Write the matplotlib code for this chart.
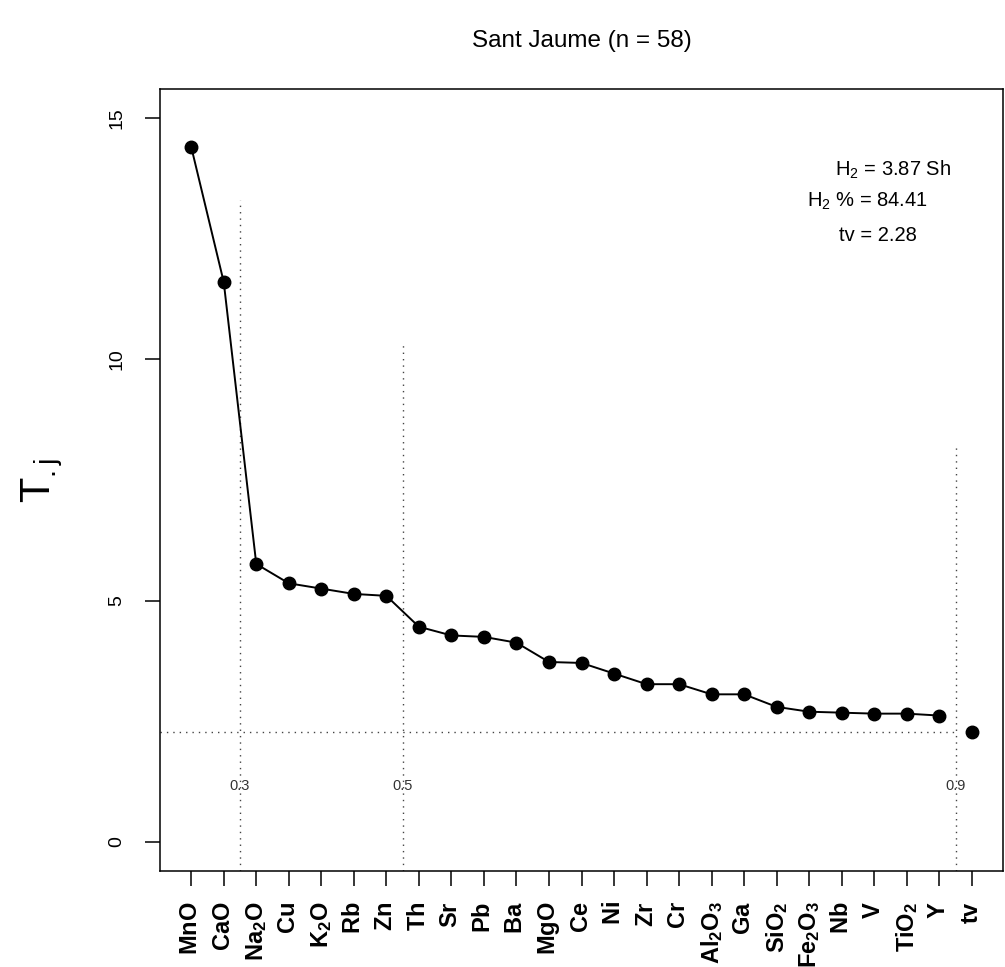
import matplotlib
matplotlib.use("Agg")
import matplotlib.pyplot as plt

plt.rcParams['font.family'] = ['Liberation Sans', 'DejaVu Sans']
plt.rcParams['mathtext.fontset'] = 'custom'
plt.rcParams['mathtext.rm'] = 'Liberation Sans'
plt.rcParams['mathtext.it'] = 'Liberation Sans:italic'
plt.rcParams['mathtext.bf'] = 'Liberation Sans:bold'

title = "Sant Jaume (n = 58)"
categories = [r"$\mathbf{MnO}$", r"$\mathbf{CaO}$", r"$\mathbf{Na_2O}$", r"$\mathbf{Cu}$",
              r"$\mathbf{K_2O}$", r"$\mathbf{Rb}$", r"$\mathbf{Zn}$", r"$\mathbf{Th}$",
              r"$\mathbf{Sr}$", r"$\mathbf{Pb}$", r"$\mathbf{Ba}$", r"$\mathbf{MgO}$",
              r"$\mathbf{Ce}$", r"$\mathbf{Ni}$", r"$\mathbf{Zr}$", r"$\mathbf{Cr}$",
              r"$\mathbf{Al_2O_3}$", r"$\mathbf{Ga}$", r"$\mathbf{SiO_2}$", r"$\mathbf{Fe_2O_3}$",
              r"$\mathbf{Nb}$", r"$\mathbf{V}$", r"$\mathbf{TiO_2}$", r"$\mathbf{Y}$",
              r"$\mathbf{tv}$"]
values = [14.40, 11.60, 5.76, 5.36, 5.25, 5.14, 5.10, 4.46, 4.28, 4.25, 4.13, 3.73,
          3.71, 3.49, 3.27, 3.27, 3.06, 3.06, 2.80, 2.70, 2.68, 2.66, 2.66, 2.62]
tv = 2.28
cut_labels = ["0.3", "0.5", "0.9"]
cut_pos = [2.5, 7.5, 24.5]
cut_tops = [13.3, 10.3, 8.2]
yticks = [0, 5, 10, 15]
stats_text = [r"$\mathrm{H_2}$ = 3.87 Sh", r"$\mathrm{H_2}$ % = 84.41", "tv = 2.28"]

fig = plt.figure(figsize=(10.05, 9.67), dpi=100)
ax = fig.add_axes([160/1005, 1-871/967, (1003-160)/1005, (871-89)/967])

n = len(categories)
xs = list(range(1, len(values) + 1))
ax.plot(xs, values, color='black', lw=1.4, marker='o', ms=9, zorder=3)
ax.plot([n], [tv], color='black', marker='o', ms=9, ls='none', zorder=3)

ax.set_xlim(1 - 0.04*(n-1), n + 0.04*(n-1))
ax.set_ylim(-0.6, 15.6)

dot = (0, (1, 3.6))
ax.plot([ax.get_xlim()[0], cut_pos[-1]], [tv, tv], color='#444444', lw=1.0, ls=dot)
for p, t, lab in zip(cut_pos, cut_tops, cut_labels):
    ax.plot([p, p], [-0.6, t], color='#444444', lw=1.0, ls=dot)
    ax.text(p, 1.16, lab, ha='center', va='center', fontsize=10.5, color='#333333')

tx = [22.57, 21.80, 22.10]
ty = [13.92, 13.27, 12.56]
for x, y, s in zip(tx, ty, stats_text):
    ax.text(x, y, s, ha='center', va='center', fontsize=14.5)

ax.set_xticks(range(1, n + 1))
ax.set_xticklabels(categories, rotation=90, fontsize=17)
ax.set_yticks(yticks)
ax.set_yticklabels([str(v) for v in yticks], rotation=90, va='center', fontsize=14)
ax.tick_params(axis='x', length=11, width=1.1, pad=11)
ax.tick_params(axis='y', length=11, width=1.1, pad=14)
for s in ax.spines.values():
    s.set_linewidth(1.1)

ax.set_ylabel(r"$\mathrm{T_{.j}}$", fontsize=30)
ax.yaxis.set_label_coords(-0.113, 0.5)

fig.text(581.5/1005, 1-41/967, title, ha='center', va='center', fontsize=17.5)

fig.savefig("out.png", dpi=100)
